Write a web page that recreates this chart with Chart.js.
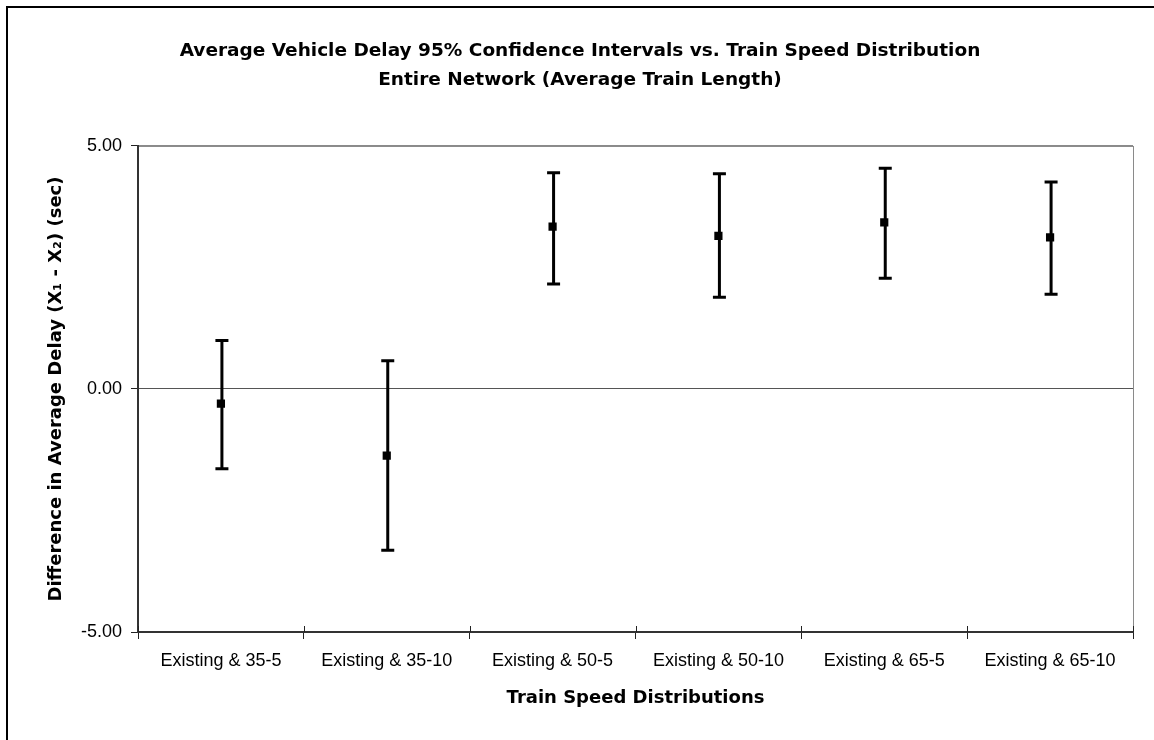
<!DOCTYPE html>
<html>
<head>
<meta charset="utf-8">
<script src="https://cdn.jsdelivr.net/npm/chart.js@4.4.1/dist/chart.umd.min.js"></script>
<style>
  html, body { margin: 0; padding: 0; background: #ffffff; }
  #wrap { width: 1154px; height: 740px; position: relative; }
</style>
</head>
<body>
<div id="wrap"><canvas id="chart" width="1154" height="740"></canvas></div>
<script>
// Train speed distribution comparisons
const categories = [
  'Existing & 35-5', 'Existing & 35-10', 'Existing & 50-5',
  'Existing & 50-10', 'Existing & 65-5', 'Existing & 65-10'
];
// Mean difference in average delay (sec)
const meanDiff = [-0.30, -1.37, 3.34, 3.15, 3.43, 3.12];
// 95% confidence interval bounds (sec)
const lowerCI = [-1.64, -3.32, 2.16, 1.89, 2.28, 1.95];
const upperCI = [1.00, 0.58, 4.45, 4.43, 4.54, 4.26];
// Value axis ticks
const yTicks = [-5, 0, 5];

const FONT = "'Liberation Sans', Arial, sans-serif";
const BOLD_FONT = "'DejaVu Sans', 'Liberation Sans', sans-serif";

// Page frame, white background and plot-area outline
const framePlugin = {
  id: 'frame',
  beforeDraw(chart) {
    const { ctx, chartArea: a, width, height } = chart;
    ctx.save();
    ctx.fillStyle = '#ffffff';
    ctx.fillRect(0, 0, width, height);
    ctx.strokeStyle = '#000000';
    ctx.lineWidth = 2;
    ctx.beginPath();
    ctx.moveTo(7, height);
    ctx.lineTo(7, 7);
    ctx.lineTo(width, 7);
    ctx.stroke();
    ctx.strokeStyle = '#8a8a8a';
    ctx.lineWidth = 1;
    ctx.strokeRect(a.left + 0.5, a.top + 0.5, a.right - a.left, a.bottom - a.top);
    ctx.restore();
  }
};

// Confidence interval whiskers with end caps, plus inner halves of category ticks
const errorBarPlugin = {
  id: 'errorBars',
  beforeDatasetsDraw(chart) {
    const { ctx, chartArea: a, scales: { x, y } } = chart;
    ctx.save();
    ctx.strokeStyle = '#222222';
    ctx.lineWidth = 1;
    const step = x.getPixelForValue(1) - x.getPixelForValue(0);
    ctx.beginPath();
    for (let i = 0; i <= categories.length; i++) {
      const bx = Math.round(x.getPixelForValue(i) - step / 2) + 0.5;
      ctx.moveTo(bx, a.bottom);
      ctx.lineTo(bx, a.bottom - 6);
    }
    ctx.stroke();

    ctx.strokeStyle = '#000000';
    ctx.lineWidth = 3;
    ctx.lineCap = 'butt';
    const capHalf = 6.5;
    categories.forEach((c, i) => {
      const px = x.getPixelForValue(i) + 1;
      const yl = y.getPixelForValue(lowerCI[i]);
      const yh = y.getPixelForValue(upperCI[i]);
      ctx.beginPath();
      ctx.moveTo(px, yh);
      ctx.lineTo(px, yl);
      ctx.moveTo(px - capHalf, yh);
      ctx.lineTo(px + capHalf, yh);
      ctx.moveTo(px - capHalf, yl);
      ctx.lineTo(px + capHalf, yl);
      ctx.stroke();
    });
    ctx.restore();
  }
};

new Chart(document.getElementById('chart'), {
  type: 'line',
  data: {
    labels: categories,
    datasets: [{
      label: 'Mean difference',
      data: meanDiff,
      showLine: false,
      pointStyle: 'rect',
      pointRadius: 5.8,
      pointHoverRadius: 5.8,
      pointBackgroundColor: '#000000',
      pointBorderColor: '#000000',
      pointBorderWidth: 0
    }]
  },
  options: {
    responsive: false,
    animation: false,
    devicePixelRatio: 1,
    layout: { padding: { left: 27, right: 21, top: 0, bottom: 0 } },
    plugins: {
      legend: { display: false },
      tooltip: { enabled: false },
      title: {
        display: true,
        text: [
          'Average Vehicle Delay 95% Confidence Intervals vs. Train Speed Distribution',
          'Entire Network (Average Train Length)'
        ],
        color: '#000000',
        font: { family: BOLD_FONT, size: 18.5, weight: 'bold', lineHeight: 1.54 },
        padding: { top: 37, bottom: 52 }
      }
    },
    scales: {
      x: {
        type: 'category',
        offset: true,
        afterFit(s) { s.height = 108; },
        grid: {
          offset: true,
          drawOnChartArea: false,
          drawTicks: true,
          tickLength: 7,
          color: '#222222'
        },
        border: { display: true, color: '#333333', width: 2 },
        ticks: {
          color: '#000000',
          font: { family: FONT, size: 18 },
          padding: 11,
          maxRotation: 0,
          autoSkip: false
        },
        title: {
          display: true,
          text: 'Train Speed Distributions',
          color: '#000000',
          font: { family: BOLD_FONT, size: 18, weight: 'bold', lineHeight: 1.2 },
          padding: { top: 0, bottom: 31 }
        }
      },
      y: {
        min: yTicks[0],
        max: yTicks[yTicks.length - 1],
        afterFit(s) { s.width = 111; },
        afterBuildTicks(s) { s.ticks = yTicks.map(v => ({ value: v })); },
        grid: {
          drawTicks: true,
          tickLength: 7,
          tickColor: '#222222',
          color: ctx => (ctx.tick && ctx.tick.value === 0) ? '#555555' : '#8a8a8a'
        },
        border: { display: true, color: '#333333', width: 2 },
        ticks: {
          color: '#000000',
          font: { family: FONT, size: 18 },
          padding: 9,
          callback: v => Number(v).toFixed(2)
        },
        title: {
          display: true,
          text: 'Difference in Average Delay (X\u2081 - X\u2082) (sec)',
          color: '#000000',
          font: { family: BOLD_FONT, size: 18, weight: 'bold', lineHeight: 1.2 },
          padding: { top: 19, bottom: 0 }
        }
      }
    }
  },
  plugins: [framePlugin, errorBarPlugin]
});
</script>
</body>
</html>
